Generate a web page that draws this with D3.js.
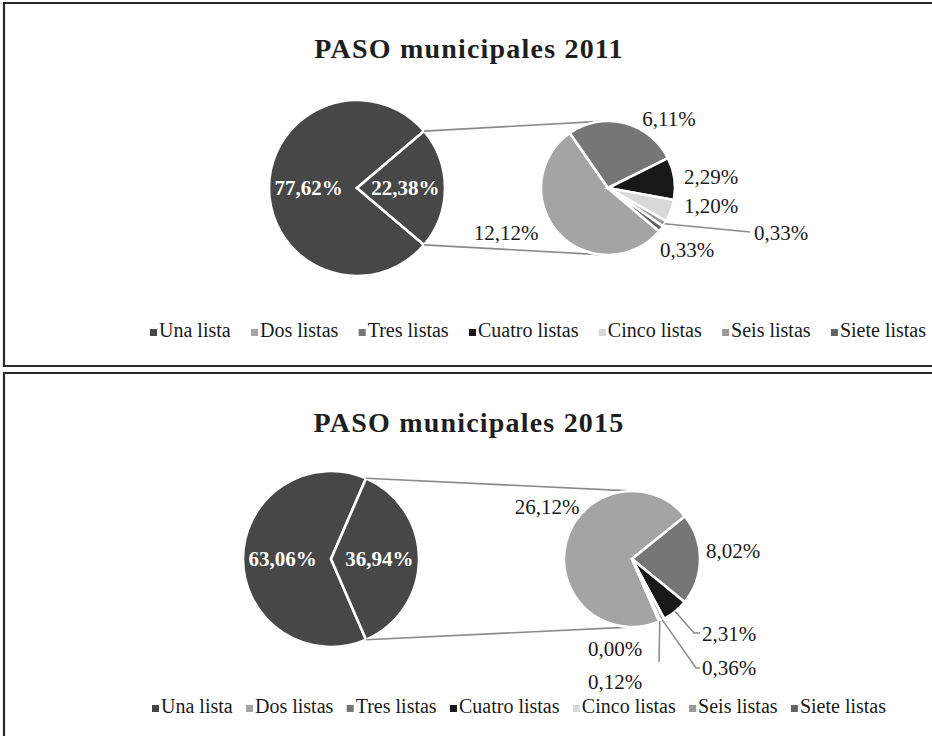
<!DOCTYPE html>
<html><head><meta charset="utf-8">
<script src="https://cdn.jsdelivr.net/npm/d3@7"></script>
<style>body{margin:0;background:#fff;} svg{display:block;}</style>
</head><body>
<svg id="chart" width="932" height="736"></svg>
<script>
// ---- data ----
const categories = ["Una lista","Dos listas","Tres listas","Cuatro listas","Cinco listas","Seis listas","Siete listas"];
const values2011 = [77.62, 12.12, 6.11, 2.29, 1.20, 0.33, 0.33];
const values2015 = [63.06, 26.12, 8.02, 2.31, 0.00, 0.36, 0.12];
const titles = ["PASO municipales 2011", "PASO municipales 2015"];
const colors = ["#474747","#a4a4a4","#767676","#181818","#d8d8d8","#9a9a9a","#636363"];

// ---- layout (not data) ----
const layouts = [
  { values: values2011, title: titles[0], boxTop: 3, boxBottom: 366, titleY: 58,
    main: {cx: 357, cy: 188, r: 88}, sec: {cx: 608, cy: 188, r: 67},
    legendY: 337, legendX0: 150, legendX1: 926,
    labels: [
      {dx:-102, dy:45},
      {dx:61, dy:-69},
      {dx:103, dy:-11},
      {dx:103, dy:18},
      {dx:146, dy:45, anchor:"start", leader:[[142,44]]},
      {dx:79, dy:62}
    ]},
  { values: values2015, title: titles[1], boxTop: 373, boxBottom: null, titleY: 432,
    main: {cx: 331, cy: 559, r: 88}, sec: {cx: 632, cy: 559, r: 68},
    legendY: 713, legendX0: 152, legendX1: 886,
    labels: [
      {dx:-85, dy:-52},
      {dx:101, dy:-8},
      {dx:70, dy:75, anchor:"start", leader:[[62,74],[68,74]]},
      {dx:-17, dy:90},
      {dx:70, dy:109, anchor:"start", leader:[[64,109],[68,109]]},
      {dx:-17, dy:123, leader:[[27,103]]}
    ]}
];

const svg = d3.select("#chart");
const loc = d3.formatLocale({decimal: ",", thousands: ".", grouping: [3], currency: ["", ""]});
const fmt = v => loc.format(".2f")(v) + "%";
const serif = "'Liberation Serif', 'DejaVu Serif', serif";

layouts.forEach(L => {
  const g = svg.append("g");
  // frame
  const p = d3.path();
  p.moveTo(932, L.boxTop); p.lineTo(4, L.boxTop);
  p.lineTo(4, L.boxBottom == null ? 736 : L.boxBottom);
  if (L.boxBottom != null) p.lineTo(932, L.boxBottom);
  g.append("path").attr("d", p.toString()).attr("fill", "none")
    .attr("stroke", "#2a2a2a").attr("stroke-width", 2.2);

  // title
  g.append("text").attr("x", 469).attr("y", L.titleY).attr("text-anchor", "middle")
    .attr("font-family", serif).attr("font-weight", "bold").attr("font-size", 28)
    .attr("letter-spacing", 1.2).attr("fill", "#1e1e1e").text(L.title);

  const una = L.values[0];
  const other = 100 - una;
  const f = other / 100;

  // main pie
  const mainData = [una, other];
  const mainPie = d3.pie().sort(null)
    .startAngle(Math.PI/2 + Math.PI*f).endAngle(Math.PI/2 + Math.PI*f + 2*Math.PI);
  const mainArc = d3.arc().innerRadius(0).outerRadius(L.main.r);
  const labArc = d3.arc().innerRadius(0).outerRadius(L.main.r * 1.1);
  const mg = g.append("g").attr("transform", `translate(${L.main.cx},${L.main.cy})`);
  const mArcs = mainPie(mainData);

  // connector lines (from other-slice edges, tangent to secondary pie)
  const half = Math.PI * f;
  [-1, 1].forEach(sgn => {
    const P = [L.main.cx + L.main.r*Math.cos(half), L.main.cy + sgn*L.main.r*Math.sin(half)];
    const dx = P[0]-L.sec.cx, dy = P[1]-L.sec.cy;
    const d = Math.hypot(dx, dy);
    const th = Math.atan2(dy, dx);
    const a = Math.acos(L.sec.r / d);
    const cands = [th + a, th - a].map(t => [L.sec.cx + L.sec.r*Math.cos(t), L.sec.cy + L.sec.r*Math.sin(t)]);
    const T = sgn < 0 ? (cands[0][1] < cands[1][1] ? cands[0] : cands[1])
                      : (cands[0][1] > cands[1][1] ? cands[0] : cands[1]);
    g.append("line").attr("x1", P[0]).attr("y1", P[1]).attr("x2", T[0]).attr("y2", T[1])
      .attr("stroke", "#8a8a8a").attr("stroke-width", 1.6);
  });

  mg.selectAll("path").data(mArcs).join("path")
    .attr("d", mainArc).attr("fill", colors[0])
    .attr("stroke", "#fff").attr("stroke-width", 2.6).attr("stroke-linejoin", "miter");
  mg.selectAll("text").data(mArcs).join("text")
    .attr("transform", d => `translate(${labArc.centroid(d)})`)
    .attr("text-anchor", "middle").attr("dominant-baseline", "central")
    .attr("font-family", serif).attr("font-weight", "bold").attr("font-size", 21)
    .attr("fill", "#fff").text(d => fmt(d.data));

  // secondary pie
  const secVals = L.values.slice(1);
  const secPie = d3.pie().sort(null)
    .startAngle(Math.PI/2 + Math.PI*f).endAngle(Math.PI/2 + Math.PI*f + 2*Math.PI);
  const secArc = d3.arc().innerRadius(0).outerRadius(L.sec.r);
  const sg = g.append("g").attr("transform", `translate(${L.sec.cx},${L.sec.cy})`);
  const sArcs = secPie(secVals);
  sg.selectAll("path").data(sArcs).join("path")
    .attr("d", secArc).attr("fill", (d, i) => colors[i+1])
    .attr("stroke", "#fff").attr("stroke-width", 2.6).attr("stroke-linejoin", "miter");

  // leader lines
  sArcs.forEach((d, i) => {
    const lab = L.labels[i];
    if (!lab.leader) return;
    const mid = (d.startAngle + d.endAngle) / 2;
    const pts = [[L.sec.r*Math.sin(mid), -L.sec.r*Math.cos(mid)]].concat(lab.leader);
    sg.append("path").attr("d", d3.line()(pts)).attr("fill", "none")
      .attr("stroke", "#8a8a8a").attr("stroke-width", 1.5);
  });
  sg.selectAll("text").data(sArcs).join("text")
    .attr("x", (d, i) => L.labels[i].dx).attr("y", (d, i) => L.labels[i].dy)
    .attr("text-anchor", (d, i) => L.labels[i].anchor || "middle")
    .attr("dominant-baseline", "central")
    .attr("font-family", serif).attr("font-size", 21).attr("fill", "#1a1a1a")
    .text(d => fmt(d.data));

  // legend
  const lg = g.append("g");
  const items = lg.selectAll("g").data(categories).join("g");
  items.append("rect").attr("width", 7).attr("height", 7).attr("y", -8)
    .attr("fill", (d, i) => colors[i]);
  items.append("text").attr("x", 9).attr("font-family", serif).attr("font-size", 20)
    .attr("fill", "#1a1a1a").text(d => d);
  const widths = items.nodes().map(n => 9 + n.querySelector("text").getComputedTextLength());
  const total = d3.sum(widths);
  const gap = (L.legendX1 - L.legendX0 - total) / (categories.length - 1);
  let x = L.legendX0;
  items.each(function(d, i) {
    d3.select(this).attr("transform", `translate(${x},${L.legendY})`);
    x += widths[i] + gap;
  });
});
</script>
</body></html>
